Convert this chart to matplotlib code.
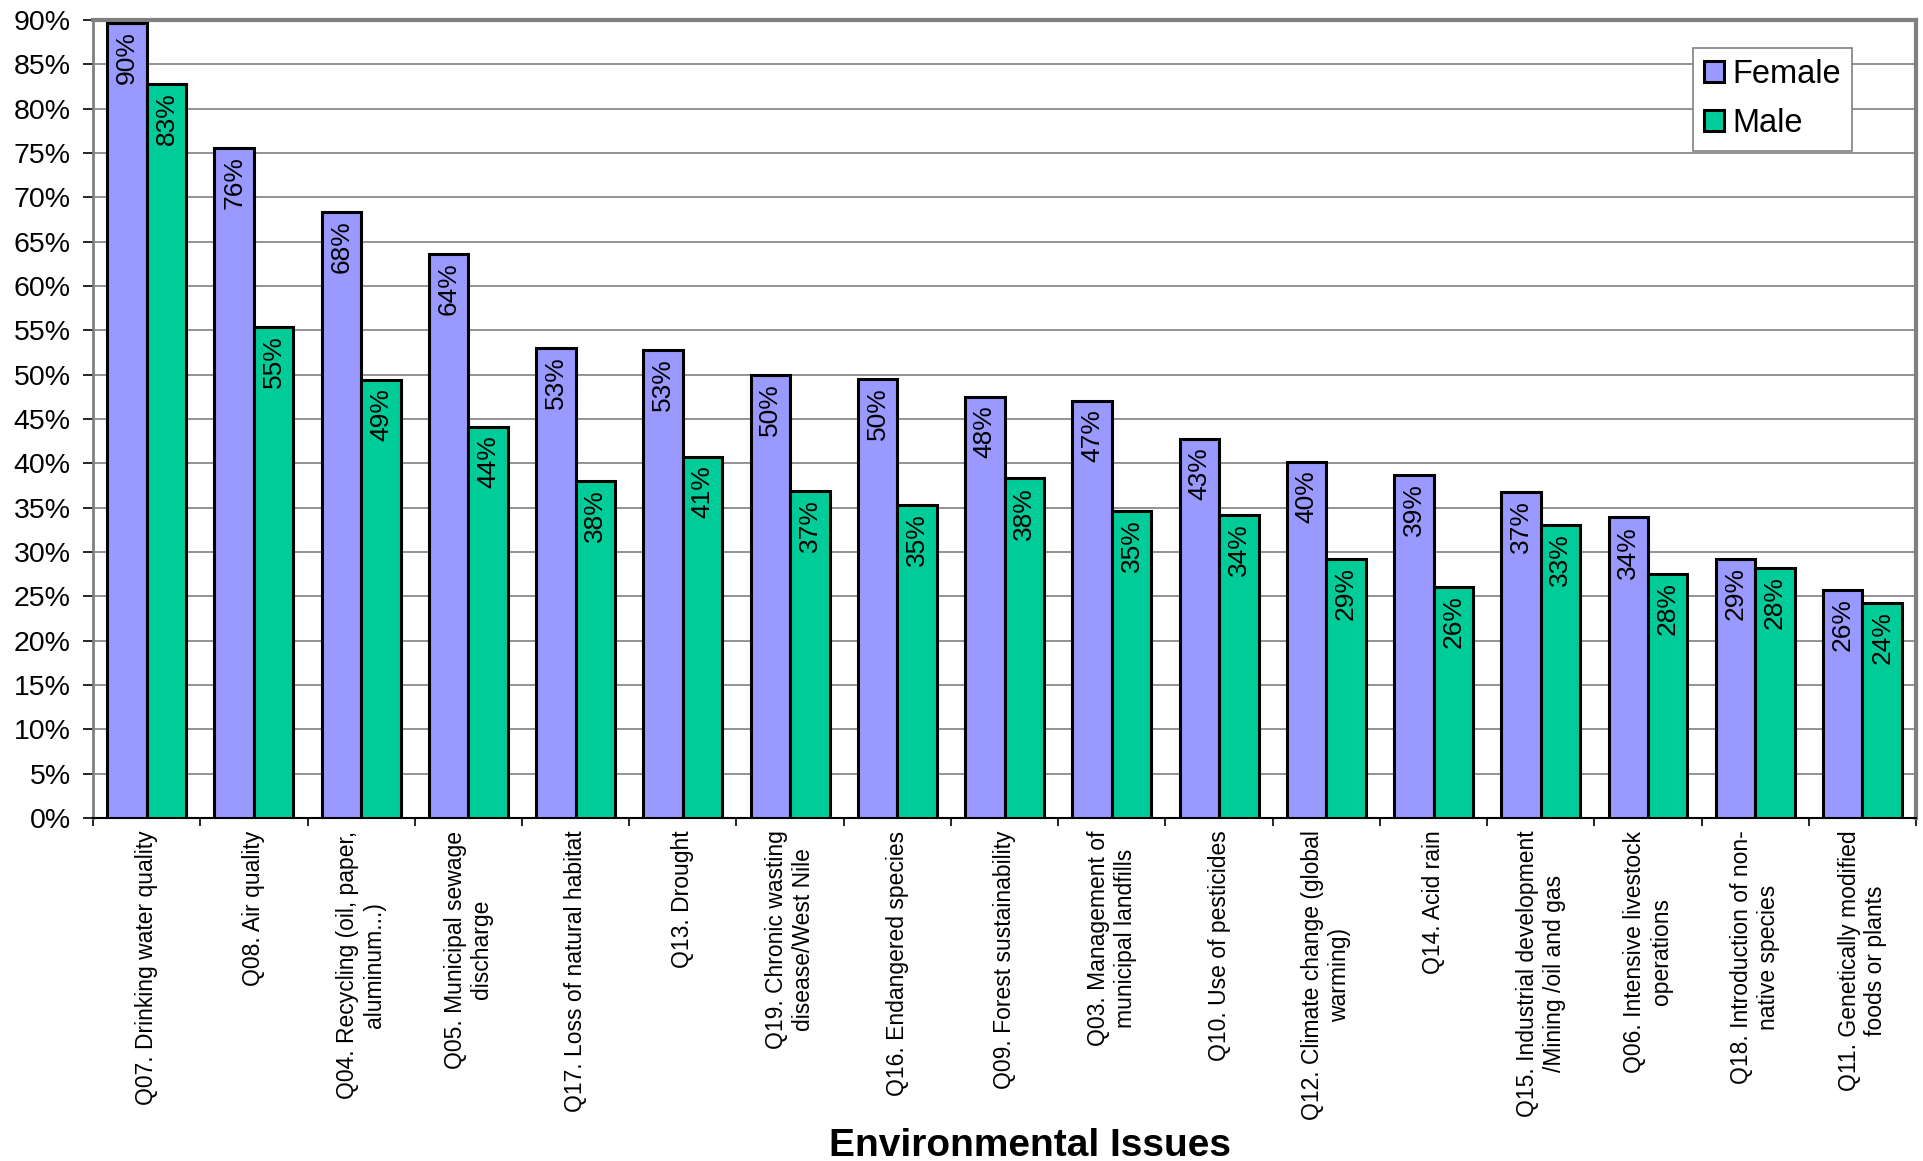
import matplotlib
matplotlib.use("Agg")
import matplotlib.pyplot as plt
from matplotlib.ticker import FixedLocator, FuncFormatter
import numpy as np

# ----- данные -----
issues = [
    "Q07. Drinking water quality",
    "Q08. Air quality",
    "Q04. Recycling (oil, paper,\naluminum...)",
    "Q05. Municipal sewage\ndischarge",
    "Q17. Loss of natural habitat",
    "Q13. Drought",
    "Q19. Chronic wasting\ndisease/West Nile",
    "Q16. Endangered species",
    "Q09. Forest sustainability",
    "Q03. Management of\nmunicipal landfills",
    "Q10. Use of pesticides",
    "Q12. Climate change (global\nwarming)",
    "Q14. Acid rain",
    "Q15. Industrial development\n/Mining /oil and gas",
    "Q06. Intensive livestock\noperations",
    "Q18. Introduction of non-\nnative species",
    "Q11. Genetically modified\nfoods or plants",
]
female = [89.7, 75.6, 68.3, 63.6, 53.0, 52.8, 50.0, 49.5, 47.5, 47.0,
          42.7, 40.2, 38.7, 36.8, 33.9, 29.2, 25.7]
male = [82.8, 55.4, 49.4, 44.1, 38.0, 40.7, 36.9, 35.3, 38.3, 34.6,
        34.2, 29.2, 26.1, 33.0, 27.5, 28.2, 24.3]
y_ticks = list(range(0, 95, 5))

female_color = "#9999FF"
male_color = "#00CC99"
grid_color = "#808080"

plt.rcParams["font.family"] = ["Liberation Sans", "DejaVu Sans"]

fig = plt.figure(figsize=(19.23, 11.61), dpi=100)
ax = fig.add_axes([0.0484, 0.2954, 0.9480, 0.6874])

x = np.arange(len(issues))
w = 0.368
bars_f = ax.bar(x - w / 2, female, w, color=female_color, edgecolor="black",
                linewidth=2.2, label="Female", zorder=3)
bars_m = ax.bar(x + w / 2, male, w, color=male_color, edgecolor="black",
                linewidth=2.2, label="Male", zorder=3)

# подписи значений внутри столбцов
for bars, vals in ((bars_f, female), (bars_m, male)):
    for b, v in zip(bars, vals):
        ax.annotate("{:.0f}%".format(v),
                    (b.get_x() + b.get_width() / 2, v),
                    xytext=(0, -6), textcoords="offset points",
                    rotation=90, ha="center", va="top",
                    fontsize=19, zorder=4)

# оси и сетка
ax.set_xlim(-0.5, len(issues) - 0.5)
ax.set_ylim(0, 90)
ax.yaxis.set_major_locator(FixedLocator(y_ticks))
ax.yaxis.set_major_formatter(FuncFormatter(lambda v, p: "{:.0f}%".format(v)))
ax.tick_params(axis="y", labelsize=20.5, length=7, width=1.2, pad=9)
ax.grid(axis="y", color=grid_color, linewidth=1.2, zorder=0)

# подписи категорий по центру группы, засечки - между группами
ax.set_xticks(x)
ax.set_xticklabels(issues, rotation=90, ha="center", va="top",
                   multialignment="center", fontsize=16.5)
ax.set_xticks(np.arange(len(issues) + 1) - 0.5, minor=True)
ax.tick_params(axis="x", which="major", length=0, pad=9)
ax.tick_params(axis="x", which="minor", length=6, width=1.2)

for side in ("top", "right"):
    ax.spines[side].set_color(grid_color)
    ax.spines[side].set_linewidth(3)
ax.spines["left"].set_color(grid_color)
ax.spines["left"].set_linewidth(2)
ax.spines["bottom"].set_color("black")
ax.spines["bottom"].set_linewidth(1.5)

ax.set_xlabel("Environmental Issues", fontsize=28, fontweight="bold")
ax.xaxis.label.set_va("center")
ax.xaxis.set_label_coords(0.5354, 0.0125, transform=fig.transFigure)

leg = ax.legend(loc="upper right", bbox_to_anchor=(0.965, 0.965),
                borderaxespad=0, fontsize=23.5, fancybox=False,
                framealpha=1, edgecolor=grid_color,
                handlelength=0.6, handleheight=0.6, handletextpad=0.25,
                labelspacing=0.55, borderpad=0.35)
leg.get_frame().set_linewidth(1.2)

fig.savefig("out.png", dpi=100)
